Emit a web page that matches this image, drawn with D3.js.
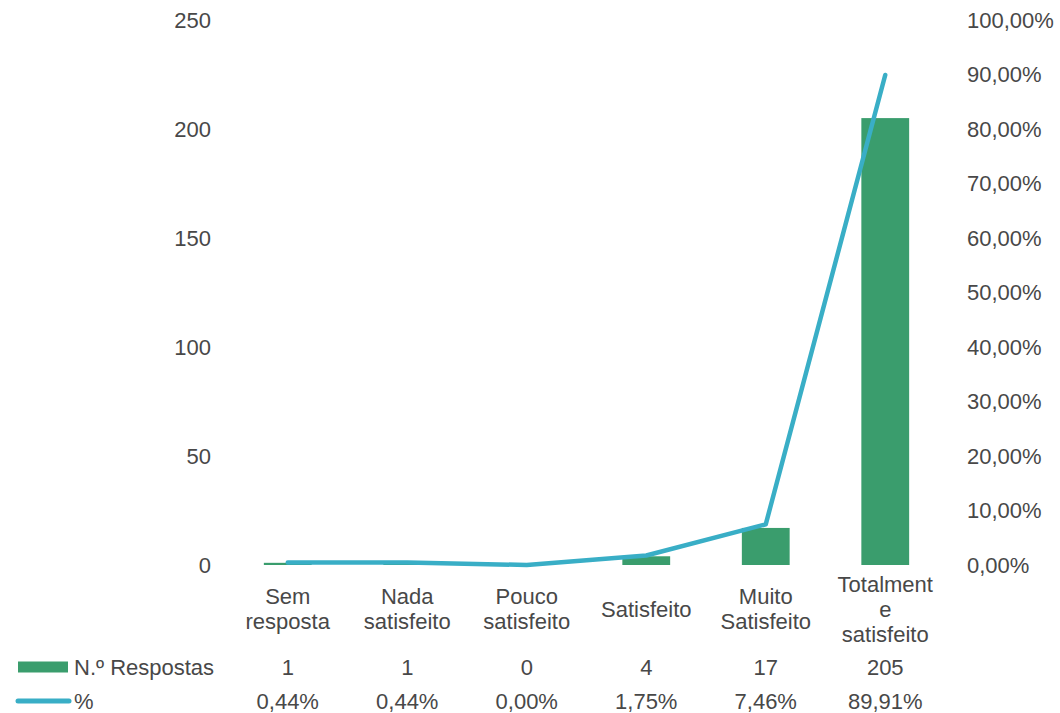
<!DOCTYPE html>
<html>
<head>
<meta charset="utf-8">
<script src="https://cdn.jsdelivr.net/npm/d3@7"></script>
<style>
  html, body { margin: 0; padding: 0; background: #ffffff; }
  svg { display: block; }
  text { font-family: "Liberation Sans", Arial, sans-serif; fill: #484848; }
</style>
</head>
<body>
<svg id="chart" width="1060" height="713"></svg>
<script>
// Categories and their wrapped axis labels
const categories = ["Sem resposta", "Nada satisfeito", "Pouco satisfeito", "Satisfeito", "Muito Satisfeito", "Totalmente satisfeito"];
const categoryLines = [
  ["Sem", "resposta"],
  ["Nada", "satisfeito"],
  ["Pouco", "satisfeito"],
  ["Satisfeito"],
  ["Muito", "Satisfeito"],
  ["Totalment", "e", "satisfeito"]
];

// Series
const respostas = [1, 1, 0, 4, 17, 205];
const percentagens = [0.44, 0.44, 0.00, 1.75, 7.46, 89.91];

// Axis ticks
const leftTicks = [0, 50, 100, 150, 200, 250];
const rightTicks = [0, 10, 20, 30, 40, 50, 60, 70, 80, 90, 100];

const seriesNames = ["N.º Respostas", "%"];

const barColor = "#3a9d6d";
const lineColor = "#39aec6";
const textColor = "#484848";
const fontSize = 22;

const svg = d3.select("#chart");

const pt = d3.formatLocale({ decimal: ",", thousands: ".", grouping: [3], currency: ["", "€"] });
const fmtPct = v => pt.format(".2f")(v) + "%";

const plot = { left: 228, right: 945, top: 20, bottom: 565 };

const x = d3.scaleBand()
  .domain(categories)
  .range([plot.left, plot.right])
  .paddingInner(0.6)
  .paddingOuter(0.3);
const cx = c => x(c) + x.bandwidth() / 2;

const yLeft = d3.scaleLinear().domain([0, 250]).range([plot.bottom, plot.top]);
const yRight = d3.scaleLinear().domain([0, 100]).range([plot.bottom, plot.top]);

function styleAxisText(g) {
  g.select(".domain").remove();
  g.selectAll("text")
    .style("font-size", fontSize + "px")
    .style("font-family", "'Liberation Sans', Arial, sans-serif")
    .attr("fill", textColor);
}

// Left axis (counts)
svg.append("g")
  .attr("transform", `translate(${plot.left},0)`)
  .call(d3.axisLeft(yLeft).tickValues(leftTicks).tickSize(0).tickPadding(17))
  .call(styleAxisText);

// Right axis (percentages)
svg.append("g")
  .attr("transform", `translate(${plot.right},0)`)
  .call(d3.axisRight(yRight).tickValues(rightTicks).tickFormat(fmtPct).tickSize(0).tickPadding(22))
  .call(styleAxisText);

// Bars
svg.append("g")
  .selectAll("rect")
  .data(categories)
  .join("rect")
  .attr("x", d => x(d))
  .attr("width", x.bandwidth())
  .attr("y", (d, i) => yLeft(respostas[i]))
  .attr("height", (d, i) => yLeft(0) - yLeft(respostas[i]))
  .attr("fill", barColor);

// Percentage line
const line = d3.line()
  .x((d, i) => cx(categories[i]))
  .y(d => yRight(d));
svg.append("path")
  .datum(percentagens)
  .attr("d", line)
  .attr("fill", "none")
  .attr("stroke", lineColor)
  .attr("stroke-width", 4.5)
  .attr("stroke-linecap", "round")
  .attr("stroke-linejoin", "round");

// Category labels, vertically centred under each band
const lineH = 25;
const labelMid = 609;
const gCats = svg.append("g");
categories.forEach((c, i) => {
  const lines = categoryLines[i];
  const t = gCats.append("text")
    .attr("x", cx(c))
    .attr("text-anchor", "middle")
    .style("font-size", fontSize + "px");
  lines.forEach((s, k) => {
    t.append("tspan")
      .attr("x", cx(c))
      .attr("y", labelMid + (k - (lines.length - 1) / 2) * lineH)
      .attr("dy", "0.35em")
      .text(s);
  });
});

// Data table with legend keys
const rowY = [667, 701];
const table = svg.append("g");

table.append("rect")
  .attr("x", 18).attr("y", rowY[0] - 5.5)
  .attr("width", 50).attr("height", 11)
  .attr("fill", barColor);
table.append("line")
  .attr("x1", 18).attr("x2", 69)
  .attr("y1", rowY[1]).attr("y2", rowY[1])
  .attr("stroke", lineColor)
  .attr("stroke-width", 5)
  .attr("stroke-linecap", "round");

seriesNames.forEach((s, r) => {
  table.append("text")
    .attr("x", 74).attr("y", rowY[r]).attr("dy", "0.35em")
    .style("font-size", fontSize + "px")
    .text(s);
});

categories.forEach((c, i) => {
  table.append("text")
    .attr("x", cx(c)).attr("y", rowY[0]).attr("dy", "0.35em")
    .attr("text-anchor", "middle")
    .style("font-size", fontSize + "px")
    .text(respostas[i]);
  table.append("text")
    .attr("x", cx(c)).attr("y", rowY[1]).attr("dy", "0.35em")
    .attr("text-anchor", "middle")
    .style("font-size", fontSize + "px")
    .text(fmtPct(percentagens[i]));
});
</script>
</body>
</html>
